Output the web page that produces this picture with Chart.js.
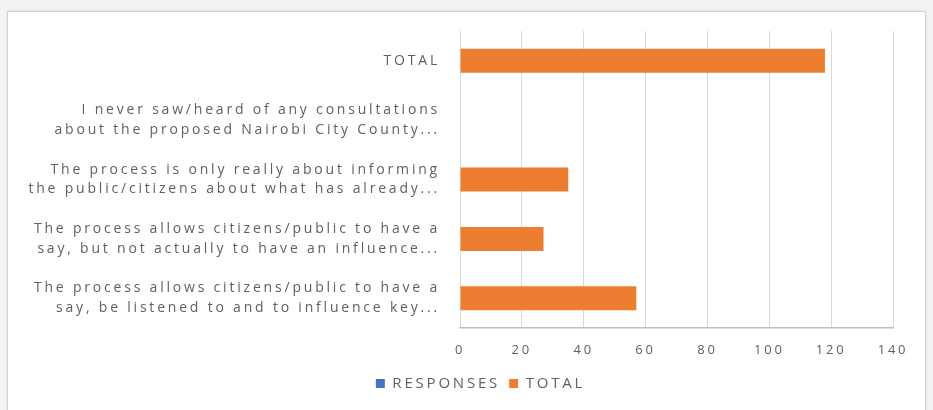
<!DOCTYPE html>
<html>
<head>
<meta charset="utf-8">
<script src="https://cdn.jsdelivr.net/npm/chart.js@4"></script>
<style>
  html, body { margin: 0; padding: 0; background: #f3f3f3; width: 933px; height: 410px; overflow: hidden; }
  #frame { position: absolute; left: 7px; top: 11px; width: 917px; height: 410px; background: #ffffff; border: 1px solid #d4d4d4; box-shadow: 0 0 2px rgba(0,0,0,0.12); }
  #wrap { position: absolute; left: 0; top: 0; width: 917px; height: 398px; }
</style>
</head>
<body>
<div id="frame"><div id="wrap"><canvas id="c"></canvas></div></div>
<script>
const categories = [
  ["TOTAL"],
  ["I never saw/heard of any consultations", "about the proposed Nairobi City County..."],
  ["The process is only really about informing", "the public/citizens about what has already..."],
  ["The process allows citizens/public to have a", "say, but not actually to have an influence..."],
  ["The process allows citizens/public to have a", "say, be listened to and to influence key..."]
];
const responsesValues = [0, 0, 0, 0, 0];
const totalValues = [118, 0, 35, 27, 57];
const xTicks = [0, 20, 40, 60, 80, 100, 120, 140];
const seriesNames = ["RESPONSES", "TOTAL"];

const textColor = '#606060';
const SPACING = '2.8px';
const spacingPlugin = {
  id: 'spacing',
  beforeInit(chart) { chart.ctx.letterSpacing = SPACING; },
  resize(chart) { chart.ctx.letterSpacing = SPACING; },
  beforeUpdate(chart) { chart.ctx.letterSpacing = SPACING; },
  beforeLayout(chart) { chart.ctx.letterSpacing = SPACING; },
  afterLayout(chart) {
    // shift the legend block to the right, as in the reference
    chart.legend.left += 30;
    chart.legend.right += 30;
  },
  beforeDraw(chart) { chart.ctx.letterSpacing = SPACING; }
};

new Chart(document.getElementById('c'), {
  type: 'bar',
  data: {
    labels: categories,
    datasets: [
      { label: seriesNames[0], data: responsesValues, backgroundColor: '#4472C4', barThickness: 24, inflateAmount: 0 },
      { label: seriesNames[1], data: totalValues, backgroundColor: '#ED7D31', barThickness: 24, inflateAmount: 0 }
    ]
  },
  plugins: [spacingPlugin],
  options: {
    indexAxis: 'y',
    responsive: true,
    maintainAspectRatio: false,
    animation: false,
    layout: { autoPadding: false, padding: { left: 0, right: 32, top: 19, bottom: 9 } },
    scales: {
      x: {
        min: xTicks[0], max: xTicks[xTicks.length - 1],
        afterBuildTicks(s) { s.ticks = xTicks.map(v => ({ value: v })); },
        afterFit(s) { s.height = 39; s.paddingLeft = 0; s.paddingRight = 0; },
        grid: { color: '#d9d9d9', drawTicks: false },
        border: { color: '#bfbfbf', width: 1.5 },
        ticks: { color: textColor, font: { family: 'Open Sans', size: 13 }, padding: 14 }
      },
      y: {
        stacked: true,
        afterFit(s) { s.width = 452; s.paddingTop = 0; s.paddingBottom = 0; },
        grid: { display: false },
        border: { display: false },
        ticks: { color: textColor, font: { family: 'Open Sans', size: 14, lineHeight: 1.4 }, padding: 12, autoSkip: false }
      }
    },
    plugins: {
      legend: {
        position: 'bottom',
        labels: { color: textColor, boxWidth: 9, boxHeight: 9, padding: 9, font: { family: 'Open Sans', size: 15 } }
      },
      tooltip: { enabled: false }
    }
  }
});
</script>
</body>
</html>
